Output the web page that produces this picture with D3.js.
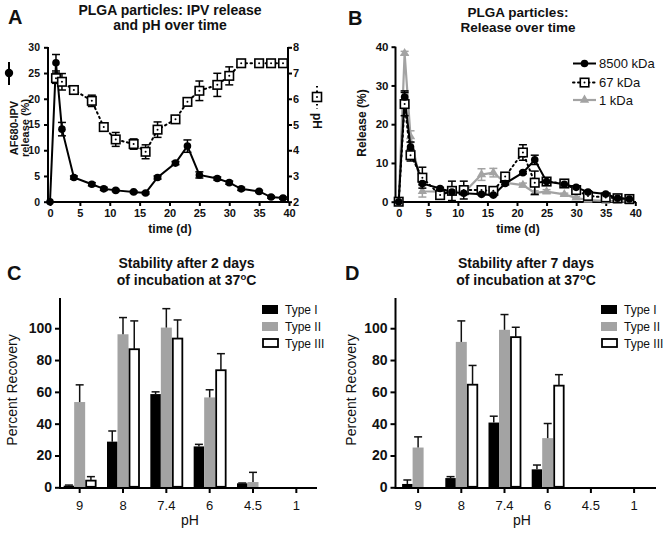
<!DOCTYPE html>
<html><head><meta charset="utf-8">
<script src="https://cdn.jsdelivr.net/npm/d3@7"></script>
<style>
body{margin:0;background:#fff;}
svg{display:block;}
</style></head><body>
<svg id="c" width="664" height="535"></svg>
<script>
// ---------- DATA ----------
const days = [0,1,2,4,7,9,11,14,16,18,21,23,25,28,30,32,35,37,39];
const release8500 = [0,27.0,14.1,4.7,3.4,2.5,2.2,1.9,1.7,4.7,7.5,10.8,5.2,4.5,3.7,2.5,2.0,0.9,0.7];
const release8500Err = [0,1.6,1.3,0.3,0.3,0.3,0.2,0.2,0.2,0.3,0.3,1.2,0.6,0.3,0.3,0.3,0.2,0.2,0.2];
const release67 = [0,25.2,12.0,6.2,1.7,2.8,3.0,3.0,2.8,6.5,12.7,4.9,5.2,4.7,3.0,1.5,1.1,0.9,0.7];
const release67Err = [0,3.0,1.5,2.7,0.5,2.5,2.3,0.5,0.5,0.5,2.0,3.0,0.5,0.5,0.5,0.4,0.3,0.3,0.3];
const release1 = [0,38.3,16.8,2.7,2.6,2.5,2.3,7.0,7.5,4.9,4.3,2.3,2.6,1.9,1.0,0.4,0.2,0.1,0];
const release1Err = [0,0.5,1.5,1.5,0.5,0.5,0.5,1.5,1.1,0.5,0.5,0.5,0.5,0.3,0.3,0.2,0.1,0.1,0];

const pHDays = [1,2,4,7,9,11,14,16,18,21,23,25,28,30,32,35,37,39];
const pHValues = [6.8,6.66,6.34,5.92,4.9,4.42,4.24,3.94,4.8,5.2,5.88,6.31,6.54,6.89,7.38,7.38,7.38,7.38];
const pHErr = [0.2,0.32,0.05,0.22,0.1,0.27,0.2,0.27,0.3,0.05,0.15,0.38,0.45,0.35,0.13,0.05,0.05,0.05];

const xTicksTime = [0,5,10,15,20,25,30,35,40];
const yTicksA = [0,5,10,15,20,25,30];
const yTicksPH = [2,3,4,5,6,7,8];
const yTicksB = [0,10,20,30,40];

const categories = ["9","8","7.4","6","4.5","1"];
const seriesNames = ["Type I","Type II","Type III"];
const c_type1 = [1.0,28.7,58.6,25.7,2.5,0];
const c_type1Err = [0.4,6.7,1.4,1.3,0.2,0];
const c_type2 = [53.6,96.2,100.4,56.5,3.3,0];
const c_type2Err = [10.8,10.5,11.9,4.8,6.1,0];
const c_type3 = [4.2,86.8,93.5,73.6,0,0];
const c_type3Err = [2.5,17.8,11.7,10.4,0,0];
const d_type1 = [2.1,5.8,40.7,11.3,0,0];
const d_type1Err = [2.5,0.9,4.0,2.7,0,0];
const d_type2 = [25.0,91.4,99.0,30.9,0,0];
const d_type2Err = [6.7,13.2,9.6,9.2,0,0];
const d_type3 = [0,64.5,94.4,63.9,0,0];
const d_type3Err = [0,12.1,6.2,6.9,0,0];
const yTicksBar = [0,20,40,60,80,100];

// ---------- HELPERS ----------
const FF = '"Liberation Sans", Arial, Helvetica, sans-serif';
const svg = d3.select("#c").attr("font-family", FF);
const GRAY = "#a3a3a3";

function styleAxis(g, fs, weight, sw) {
  g.attr("font-family", FF);
  g.selectAll("path.domain").remove();
  g.selectAll(".tick line").attr("stroke", "#000").attr("stroke-width", sw);
  g.selectAll(".tick text").attr("font-size", fs).attr("font-weight", weight).attr("fill", "#111");
}
function line(x1,y1,x2,y2,sw,color){
  return svg.append("line").attr("x1",x1).attr("y1",y1).attr("x2",x2).attr("y2",y2)
    .attr("stroke",color||"#000").attr("stroke-width",sw);
}
function text(x,y,t,fs,weight,anchor,rot){
  const el = svg.append("text").attr("font-size",fs).attr("font-weight",weight||"normal")
    .attr("text-anchor",anchor||"middle").attr("fill","#111").text(t);
  if(rot){ el.attr("transform",`translate(${x},${y}) rotate(${rot})`); }
  else el.attr("x",x).attr("y",y);
  return el;
}
function errorBars(g, xs, ys, es, xS, yS, color, cap){
  xs.forEach((d,i)=>{
    const e = es[i]; if(!e) return;
    const x = xS(d), y1 = yS(ys[i]-e), y2 = yS(ys[i]+e);
    g.append("line").attr("x1",x).attr("x2",x).attr("y1",y1).attr("y2",y2).attr("stroke",color).attr("stroke-width",1.5);
    [y1,y2].forEach(yy=>g.append("line").attr("x1",x-cap).attr("x2",x+cap).attr("y1",yy).attr("y2",yy).attr("stroke",color).attr("stroke-width",1.5));
  });
}
function circles(g, xs, ys, xS, yS, r){
  g.selectAll(null).data(xs).enter().append("circle")
    .attr("cx",d=>xS(d)).attr("cy",(d,i)=>yS(ys[i])).attr("r",r).attr("fill","#000");
}
function squares(g, xs, ys, xS, yS, s){
  xs.forEach((d,i)=>{
    const cx = xS(d), cy = yS(ys[i]);
    g.append("rect").attr("x",cx-s/2).attr("y",cy-s/2).attr("width",s).attr("height",s)
      .attr("fill","#fff").attr("stroke","#000").attr("stroke-width",1.6);
    g.append("circle").attr("cx",cx).attr("cy",cy).attr("r",1).attr("fill","#000");
  });
}
function triangles(g, xs, ys, xS, yS, color){
  const sym = d3.symbol().type(d3.symbolTriangle).size(38);
  xs.forEach((d,i)=>{
    g.append("path").attr("d",sym()).attr("transform",`translate(${xS(d)},${yS(ys[i])})`).attr("fill",color);
  });
}

// ---------- PANEL A ----------
{
  const xA = d3.scaleLinear([0,40],[50,289]);
  const yA = d3.scaleLinear([0,30],[201.7,47.3]);
  const yP = d3.scaleLinear([2,8],[201.7,47.3]);

  text(8,24,"A",20,"bold","start");
  text(170,15,"PLGA particles: IPV release",14,"bold");
  text(170,29.5,"and pH over time",14,"bold");

  const gx = svg.append("g").attr("transform","translate(0,202)")
    .call(d3.axisBottom(xA).tickValues(xTicksTime).tickSize(4).tickSizeOuter(0).tickPadding(3));
  styleAxis(gx,11,"bold",2);
  line(47,202,289,202,2);
  const gy = svg.append("g").attr("transform","translate(48,0)")
    .call(d3.axisLeft(yA).tickValues(yTicksA).tickSize(4).tickSizeOuter(0).tickPadding(4));
  styleAxis(gy,10.5,"bold",2);
  line(48,203,48,47,2);
  const gr = svg.append("g").attr("transform","translate(288,0)")
    .call(d3.axisRight(yP).tickValues(yTicksPH).tickFormat(d3.format("d")).tickSize(4).tickSizeOuter(0).tickPadding(1));
  styleAxis(gr,11,"bold",2);
  line(288,203,288,47,2);

  text(170,233,"time (d)",12,"bold");
  // left label with marker
  line(9,62,9,85,2);
  svg.append("circle").attr("cx",9).attr("cy",73).attr("r",4.2).attr("fill","#000");
  text(17.5,128,"AF680-IPV",11,"bold","middle",-90);
  text(28.5,128,"release (%)",11,"bold","middle",-90);
  // right label with marker
  line(317,86,317,109,2,"#000").attr("stroke-dasharray","1.5,3");
  svg.append("rect").attr("x",312.5).attr("y",92.5).attr("width",9).attr("height",9).attr("fill","#fff").attr("stroke","#000").attr("stroke-width",1.6);
  svg.append("circle").attr("cx",317).attr("cy",97).attr("r",1).attr("fill","#000");
  text(313,121,"pH",12,"bold","middle",90);

  const g = svg.append("g");
  // pH dotted line
  g.append("path").datum(pHDays).attr("fill","none").attr("stroke","#000").attr("stroke-width",2)
    .attr("stroke-dasharray","1.5,3.5").attr("stroke-linecap","round")
    .attr("d",d3.line().x(d=>xA(d)).y((d,i)=>yP(pHValues[i])));
  errorBars(g,pHDays,pHValues,pHErr,xA,yP,"#000",4);
  // release line
  g.append("path").datum(days).attr("fill","none").attr("stroke","#000").attr("stroke-width",2)
    .attr("d",d3.line().x(d=>xA(d)).y((d,i)=>yA(release8500[i])));
  errorBars(g,days,release8500,release8500Err,xA,yA,"#000",4);
  squares(g,pHDays,pHValues,xA,yP,8.5);
  circles(g,days,release8500,xA,yA,3.8);
}

// ---------- PANEL B ----------
{
  const xB = d3.scaleLinear([0,40],[398.7,635.3]);
  const yB = d3.scaleLinear([0,40],[201.7,46.7]);

  text(348,25,"B",20,"bold","start");
  text(518,17,"PLGA particles:",13.5,"bold");
  text(518,31.5,"Release over time",13.5,"bold");

  const gx = svg.append("g").attr("transform","translate(0,202)")
    .call(d3.axisBottom(xB).tickValues(xTicksTime).tickSize(4).tickSizeOuter(0).tickPadding(3));
  styleAxis(gx,11,"bold",2);
  line(395,202,636,202,2);
  const gy = svg.append("g").attr("transform","translate(395.5,0)")
    .call(d3.axisLeft(yB).tickValues(yTicksB).tickSize(4).tickSizeOuter(0).tickPadding(3));
  styleAxis(gy,11.5,"bold",2);
  line(395.5,203,395.5,46.7,2);
  text(518,233,"time (d)",12,"bold");
  text(366,123,"Release (%)",12,"bold","middle",-90);

  const g = svg.append("g");
  // 1 kDa gray
  g.append("path").datum(days).attr("fill","none").attr("stroke",GRAY).attr("stroke-width",2.2)
    .attr("d",d3.line().x(d=>xB(d)).y((d,i)=>yB(release1[i])));
  errorBars(g,days,release1,release1Err,xB,yB,GRAY,4);
  triangles(g,days,release1,xB,yB,GRAY);
  // 67 kDa dotted
  g.append("path").datum(days).attr("fill","none").attr("stroke","#000").attr("stroke-width",2)
    .attr("stroke-dasharray","1.5,3.5").attr("stroke-linecap","round")
    .attr("d",d3.line().x(d=>xB(d)).y((d,i)=>yB(release67[i])));
  errorBars(g,days,release67,release67Err,xB,yB,"#000",4);
  // 8500 black
  g.append("path").datum(days).attr("fill","none").attr("stroke","#000").attr("stroke-width",2)
    .attr("d",d3.line().x(d=>xB(d)).y((d,i)=>yB(release8500[i])));
  errorBars(g,days,release8500,release8500Err,xB,yB,"#000",4);
  squares(g,days,release67,xB,yB,8.5);
  circles(g,days,release8500,xB,yB,3.8);

  // legend
  const lg = svg.append("g");
  const legY = [63.5,82.5,100];
  lg.append("line").attr("x1",573).attr("x2",596).attr("y1",legY[0]).attr("y2",legY[0]).attr("stroke","#000").attr("stroke-width",2);
  lg.append("circle").attr("cx",584.5).attr("cy",legY[0]).attr("r",3.8).attr("fill","#000");
  lg.append("line").attr("x1",573).attr("x2",596).attr("y1",legY[1]).attr("y2",legY[1]).attr("stroke","#000").attr("stroke-width",2).attr("stroke-dasharray","1.5,3.5").attr("stroke-linecap","round");
  lg.append("rect").attr("x",580.3).attr("y",legY[1]-4.2).attr("width",8.5).attr("height",8.5).attr("fill","#fff").attr("stroke","#000").attr("stroke-width",1.6);
  lg.append("circle").attr("cx",584.5).attr("cy",legY[1]).attr("r",1).attr("fill","#000");
  lg.append("line").attr("x1",573).attr("x2",596).attr("y1",legY[2]).attr("y2",legY[2]).attr("stroke",GRAY).attr("stroke-width",2.2);
  lg.append("path").attr("d",d3.symbol().type(d3.symbolTriangle).size(38)()).attr("transform",`translate(584.5,${legY[2]})`).attr("fill",GRAY);
  ["8500 kDa","67 kDa","1 kDa"].forEach((t,i)=>{
    lg.append("text").attr("x",599).attr("y",legY[i]+4.5).attr("font-size",13).attr("fill","#111").text(t);
  });
}

// ---------- BAR PANELS ----------
function barPanel(o){
  const x0 = d3.scaleBand().domain(categories).range(o.xr);
  const y = d3.scaleLinear([0,119],[487.3,298]);
  const ax = o.axisX;
  text(o.letterX,280,o.letter,20,"bold","start");
  text(o.tc,268,o.title1,14,"bold");
  const t2 = svg.append("text").attr("x",o.tc).attr("y",285).attr("font-size",14).attr("font-weight","bold")
    .attr("text-anchor","middle").attr("fill","#111");
  t2.append("tspan").text("of incubation at 37");
  t2.append("tspan").attr("dy",-5).attr("font-size",9.5).text("o");
  t2.append("tspan").attr("dy",5).text("C");

  const series = [o.s1,o.s2,o.s3];
  const errs = [o.e1,o.e2,o.e3];
  const g = svg.append("g");
  const offs = [[-16,10.5],[-5.5,11],[6.5,9.5]];
  categories.forEach((c,ci)=>{
    const cx = x0(c)+x0.bandwidth()/2;
    series.forEach((s,si)=>{
      const v = s[ci];
      if(v>0){
        const r = g.append("rect").attr("x",cx+offs[si][0]).attr("width",offs[si][1])
          .attr("y",y(v)).attr("height",y(0)-y(v));
        if(si===0) r.attr("fill","#000");
        else if(si===1) r.attr("fill",GRAY);
        else r.attr("fill","#fff").attr("stroke","#000").attr("stroke-width",1.8).attr("height",y(0)-y(v)-0.5);
      }
      const e = errs[si][ci];
      if(e>0){
        const ex = cx+offs[si][0]+offs[si][1]/2;
        g.append("line").attr("x1",ex).attr("x2",ex).attr("y1",y(v)).attr("y2",y(v+e)).attr("stroke","#111").attr("stroke-width",1.5);
        g.append("line").attr("x1",ex-4).attr("x2",ex+4).attr("y1",y(v+e)).attr("y2",y(v+e)).attr("stroke","#111").attr("stroke-width",1.5);
      }
    });
  });

  const gx = svg.append("g").attr("transform","translate(0,488)")
    .call(d3.axisBottom(x0).tickSize(5).tickSizeOuter(0).tickPadding(8));
  styleAxis(gx,13,"normal",2);
  line(ax,488,o.xEnd,488,2);
  const gy = svg.append("g").attr("transform",`translate(${ax},0)`)
    .call(d3.axisLeft(y).tickValues(yTicksBar).tickSize(5).tickSizeOuter(0).tickPadding(3));
  styleAxis(gy,14,"bold",2);
  line(ax,489,ax,298,2);
  text(o.ylx,390,"Percent Recovery",14,"normal","middle",-90);
  text(o.pHx,525,"pH",14,"normal");

  // legend
  const ly = [305,322,339];
  const lx = o.legX;
  svg.append("rect").attr("x",lx).attr("y",ly[0]).attr("width",16).attr("height",9).attr("fill","#000");
  svg.append("rect").attr("x",lx).attr("y",ly[1]).attr("width",16).attr("height",9).attr("fill",GRAY);
  svg.append("rect").attr("x",lx+1).attr("y",ly[2]).attr("width",15).attr("height",8).attr("fill","#fff").attr("stroke","#000").attr("stroke-width",1.8);
  seriesNames.forEach((t,i)=>{
    svg.append("text").attr("x",lx+23).attr("y",ly[i]+8.5).attr("font-size",12).attr("fill","#111").text(t);
  });
}

barPanel({letter:"C",letterX:7,title1:"Stability after 2 days",tc:186.5,xr:[58,318],axisX:60,xEnd:317,
  s1:c_type1,s2:c_type2,s3:c_type3,e1:c_type1Err,e2:c_type2Err,e3:c_type3Err,ylx:17,pHx:190,legX:262});
barPanel({letter:"D",letterX:345,title1:"Stability after 7 days",tc:526,xr:[396.5,655.7],axisX:395.5,xEnd:656,
  s1:d_type1,s2:d_type2,s3:d_type3,e1:d_type1Err,e2:d_type2Err,e3:d_type3Err,ylx:356,pHx:522,legX:601});
</script>
</body></html>
